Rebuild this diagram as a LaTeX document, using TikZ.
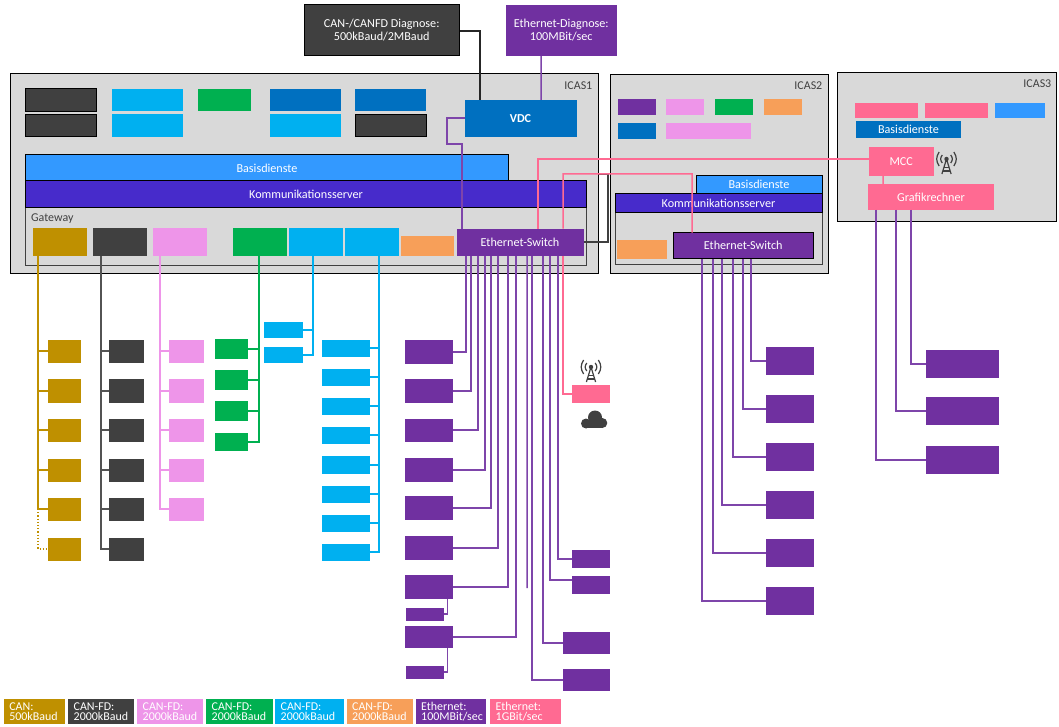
\documentclass[tikz,border=0pt]{standalone}
\usepackage{fontspec}
\setmainfont{Carlito}
\definecolor{cGold}{HTML}{BF9000}
\definecolor{cDark}{HTML}{404040}
\definecolor{cPink}{HTML}{EE95E9}
\definecolor{cGreen}{HTML}{00B050}
\definecolor{cLb}{HTML}{00B0F0}
\definecolor{cOrange}{HTML}{F79F59}
\definecolor{cPurple}{HTML}{7030A0}
\definecolor{cHot}{HTML}{FF6A92}
\definecolor{cBlue}{HTML}{0070C0}
\definecolor{cSky}{HTML}{3399FF}
\definecolor{cIndigo}{HTML}{472BCB}
\definecolor{cGrey}{HTML}{D9D9D9}
\tikzset{
  bxs/.style={inner sep=0pt,outer sep=0pt,text=white,font=\fontsize{12.2}{13}\selectfont,align=center},
  gold/.style={bxs,fill=cGold}, dark/.style={bxs,fill=cDark},
  pinkb/.style={bxs,fill=cPink}, greenb/.style={bxs,fill=cGreen},
  lb/.style={bxs,fill=cLb}, orange/.style={bxs,fill=cOrange},
  pur/.style={bxs,fill=cPurple}, hot/.style={bxs,fill=cHot},
  blueb/.style={bxs,fill=cBlue}, sky/.style={bxs,fill=cSky},
  indigo/.style={bxs,fill=cIndigo},
  edged/.style={draw=black,line width=1bp},
  icas/.style={bxs,fill=cGrey,draw=black,line width=0.9bp},
  gatew/.style={bxs,draw=cDark,line width=1bp},
  lbl/.style={text=cDark,inner sep=0pt,font=\fontsize{12}{12}\selectfont},
  wire/.style={line width=1.5bp},
  lgold/.style={wire,draw=cGold}, ldark/.style={wire,draw=cDark!90!white},
  lpink/.style={wire,draw=cPink}, lgreen/.style={wire,draw=cGreen},
  llb/.style={wire,draw=cLb}, lpur/.style={wire,draw=cPurple!90!white},
  lhot/.style={wire,draw=cHot},
  towerpic/.pic={
    \begin{scope}[draw=cDark,line width=1.2bp]
      \draw (-4.6,11) -- (0,-4) -- (4.6,11);
      \draw (-2.4,4.5) -- (2.4,4.5) (-3.6,8) -- (3.6,8);
      \fill[cDark] (0,-4) circle (2.2);
      \draw (-4.2,-8) .. controls (-6.4,-5) and (-6.4,-3) .. (-4.2,0);
      \draw (-7.4,-11) .. controls (-10.6,-6) and (-10.6,-2) .. (-7.4,3);
      \draw (4.2,-8) .. controls (6.4,-5) and (6.4,-3) .. (4.2,0);
      \draw (7.4,-11) .. controls (10.6,-6) and (10.6,-2) .. (7.4,3);
    \end{scope}
  }
}
\newcommand{\bx}[7][]{%
  \pgfmathsetmacro{\bxw}{#5-#3}\pgfmathsetmacro{\bxh}{#6-#4}%
  \pgfmathsetmacro{\bxx}{(#3+#5)/2}\pgfmathsetmacro{\bxy}{(#4+#6)/2}%
  \node[#1,minimum width=\bxw bp,minimum height=\bxh bp] (#2) at (\bxx,\bxy) {#7};}
\newcommand{\legbox}[5]{%
  \pgfmathsetmacro{\bxw}{#3-#2}%
  \node[anchor=north west,inner sep=0pt,outer sep=0pt,fill=#4,minimum width=\bxw bp,minimum height=25.5bp] (#1) at (#2,698.5) {};
  \node[anchor=west,inner sep=0pt,text=white,align=left,font=\fontsize{12}{10}\selectfont] (#1t) at ([xshift=5.5bp]#1.west) {#5};}
\begin{document}
\begin{tikzpicture}[x=1bp,y=-1bp]
\useasboundingbox (0,0) rectangle (1059,727);
\fill[white] (0,0) rectangle (1059,727);
% top diagnosis
\bx[dark,edged]{candiag}{304}{5}{459.5}{56}{CAN-/CANFD Diagnose:\\500kBaud/2MBaud}
\bx[pur]{ethdiag}{505.5}{5}{617}{56}{Ethernet-Diagnose:\\100MBit/sec}
% ICAS frames
\bx[icas]{icasone}{10}{73.5}{598.5}{273}{}
\bx[icas]{icastwo}{610}{74}{828}{273}{}
\bx[icas]{icasthree}{837.5}{72.5}{1056}{221.5}{}
\node[lbl,anchor=east] (lone) at (592.5,85.5) {ICAS1};
\node[lbl,anchor=east] (ltwo) at (822.5,85.5) {ICAS2};
\node[lbl,anchor=east] (lthree) at (1051.5,83.5) {ICAS3};
% ICAS1 apps
\bx[dark,edged]{a1}{26}{89}{96.5}{111.5}{}
\bx[dark,edged]{a2}{26}{114.5}{96.5}{137}{}
\bx[lb]{a3}{112}{89}{183}{111.5}{}
\bx[lb]{a4}{112}{114.5}{183}{137}{}
\bx[greenb]{a5}{198}{89}{251}{111.5}{}
\bx[blueb]{a6}{269.5}{89}{340.5}{111.5}{}
\bx[lb]{a7}{269.5}{114.5}{340.5}{137}{}
\bx[blueb]{a8}{355}{89}{426}{111.5}{}
\bx[dark,edged]{a9}{355}{114.5}{426}{137}{}
\bx[blueb]{vdc}{464.5}{100}{576.5}{137}{\textbf{VDC}}
\bx[gatew]{gw}{26}{207}{586}{265.5}{}
\bx[sky,edged]{bas}{26}{155}{508}{181}{Basisdienste}
\bx[indigo,edged]{kom}{26}{181}{586}{207}{Kommunikationsserver}
\node[lbl,anchor=west] (gwl) at (31,218.5) {Gateway};
% gateway ports
\bx[gold]{pgold}{33}{228}{86.5}{255.5}{}
\bx[dark]{pdark}{93}{228}{147}{255.5}{}
\bx[pinkb]{ppink}{153}{228}{207}{255.5}{}
\bx[greenb]{pgreen}{233}{228}{287}{255.5}{}
\bx[lb]{plba}{289}{228}{342.5}{255.5}{}
\bx[lb]{plbb}{345}{228}{398.5}{255.5}{}
\bx[orange]{porange}{401}{236}{454}{255.5}{}
\bx[pur]{swa}{456.5}{228.5}{583.5}{255.5}{Ethernet-Switch}
% ICAS2
\bx[pur]{b1}{617.5}{99.5}{655.5}{115}{}
\bx[pinkb]{b2}{666}{99.5}{704}{115}{}
\bx[greenb]{b3}{715}{99.5}{753}{115}{}
\bx[orange]{b4}{764}{99.5}{801.5}{115}{}
\bx[blueb]{b5}{617.5}{123.5}{655.5}{139.5}{}
\bx[pinkb]{b6}{666}{123.5}{751}{139.5}{}
\bx[gatew]{gwb}{615}{212.5}{822}{264}{}
\bx[sky,edged]{basb}{696}{175.5}{822}{194}{Basisdienste}
\bx[indigo,edged]{komb}{615}{194}{822}{212.5}{Kommunikationsserver}
\bx[orange]{b7}{616.5}{239.5}{667}{259}{}
\bx[pur,edged]{swb}{673.5}{232.5}{813}{258.5}{Ethernet-Switch}
% ICAS3
\bx[hot]{c1}{855}{103.5}{918}{118.5}{}
\bx[hot]{c2}{925}{103.5}{988}{118.5}{}
\bx[sky]{c3}{995}{103.5}{1045}{118.5}{}
\bx[blueb]{basc}{856}{121}{961}{138}{Basisdienste}
\bx[hot]{mcc}{869}{147.5}{933.5}{176}{MCC}
\bx[hot]{graf}{868}{184.5}{994}{209.5}{Grafikrechner}
\pic at (946.5,163) {towerpic};
% CAN gold
\foreach \i/\a/\b in {1/339.5/362.5,2/379/403,3/418.5/441.5,4/458.5/481.5,5/497.5/520.5,6/537.5/560.5}{
  \bx[gold]{g\i}{47.5}{\a}{81}{\b}{}
  \bx[dark]{d\i}{109}{\a}{143.5}{\b}{}
}
\foreach \i/\a/\b in {1/339.5/362.5,2/379/403,3/418.5/441.5,4/458.5/481.5,5/497.5/520.5}{
  \bx[pinkb]{k\i}{169}{\a}{203.5}{\b}{}
}
\foreach \i/\a/\b in {1/339/359,2/370/390,3/401/421,4/433/451}{
  \bx[greenb]{n\i}{214.5}{\a}{248}{\b}{}
}
\bx[lb]{s1}{263.5}{322}{303}{338}{}
\bx[lb]{s2}{263.5}{347}{303}{363}{}
\foreach \i/\a/\b in {1/339.5/356.5,2/368.5/385.5,3/397.5/414.5,4/426.5/443.5,5/456/474,6/485.5/502.5,7/514.5/531.5,8/543.5/560.5}{
  \bx[lb]{t\i}{322}{\a}{370}{\b}{}
}
% Ethernet left column
\foreach \i/\a/\b in {1/340/364,2/379/403,3/418.5/441.5,4/458/482,5/496/520,6/536/560,7/575/599,8/626/648}{
  \bx[pur]{e\i}{405}{\a}{453}{\b}{}
}
\bx[pur]{ea}{405.5}{607.5}{443.5}{620.5}{}
\bx[pur]{eb}{405.5}{665.5}{443.5}{678.5}{}
\bx[hot]{fhot}{572}{385}{610}{403}{}
\bx[pur]{f1}{572}{550}{610}{568}{}
\bx[pur]{f2}{572}{575.5}{610}{593.5}{}
\bx[pur]{f3}{562.5}{632}{610}{654}{}
\bx[pur]{f4}{562.5}{669}{610}{691}{}
\pic at (591,371) {towerpic};
\fill[cDark] (586,423.5) circle (5);
\fill[cDark] (595,417.5) circle (7);
\fill[cDark] (602.3,423) circle (5);
\fill[cDark] (586,421) rectangle (602,428.2);
% ICAS2 devices
\foreach \i/\a in {1/347,2/395,3/443,4/491,5/539,6/587}{
  \pgfmathsetmacro{\bb}{\a+28}
  \bx[pur]{h\i}{766}{\a}{814}{\bb}{}
}
% ICAS3 devices
\foreach \i/\a in {1/350,2/397,3/446}{
  \pgfmathsetmacro{\bb}{\a+28}
  \bx[pur]{m\i}{926}{\a}{999}{\bb}{}
}
% legend
\legbox{la}{3.6}{65}{cGold}{CAN:\\500kBaud}
\legbox{lb}{68}{134}{cDark}{CAN-FD:\\2000kBaud}
\legbox{lc}{137}{203}{cPink}{CAN-FD:\\2000kBaud}
\legbox{ld}{206}{272.5}{cGreen}{CAN-FD:\\2000kBaud}
\legbox{le}{275}{343.5}{cLb}{CAN-FD:\\2000kBaud}
\legbox{lf}{346.5}{412.5}{cOrange}{CAN-FD:\\2000kBaud}
\legbox{lg}{415.5}{485.5}{cPurple}{Ethernet:\\100MBit/sec}
\legbox{lh}{490}{561}{cHot}{Ethernet:\\1GBit/sec}
% connectors top
\draw[wire,draw=black!85] ([yshift=-0.5bp]candiag.east) -| ([xshift=15.5bp]vdc.north west);
\draw[lpur] ([xshift=35.5bp]ethdiag.south west) -- ([xshift=76.5bp]vdc.north west);
\coordinate (viaa) at (447,144);
\draw[lpur] ([yshift=0.5bp]vdc.west) -| (viaa) -| ([xshift=5.5bp]swa.north west);
% switch interlink
\coordinate (ila) at (608,174);
\coordinate (ilb) at (598.5,174);
\draw[wire,draw=cDark] (swa.east) -| (ila) -- (ilb);
% pink
\draw[lhot] ([yshift=2.75bp]mcc.west) -| ([xshift=81.5bp]swa.north west);
\coordinate (vib) at (692,174);
\draw[lhot] ([xshift=106.5bp]swa.north west) |- (vib) -- ([xshift=18.5bp]swb.north west);
\draw[lhot] ([xshift=106.5bp]swa.south west) |- (fhot.west);
\draw[lhot] ([xshift=14bp]mcc.south west) -- ([xshift=15bp]graf.north west);
% gold
\draw[lgold] ([xshift=5bp]pgold.south west) |- (g5.west);
\coordinate (gbus) at (38,509);
\foreach \i in {1,2,3,4} \draw[lgold] (g\i.west) -- (g\i.west -| gbus);
\draw[lgold,line width=1.2bp,dotted] (gbus) |- (g6.west);
% dark
\draw[ldark] ([xshift=8bp]pdark.south west) |- (d6.west);
\coordinate (dbus) at (101,509);
\foreach \i in {1,2,3,4,5} \draw[ldark] (d\i.west) -- (d\i.west -| dbus);
% pink can
\draw[lpink] ([xshift=7bp]ppink.south west) |- (k5.west);
\coordinate (kbus) at (160,509);
\foreach \i in {1,2,3,4} \draw[lpink] (k\i.west) -- (k\i.west -| kbus);
% green
\draw[lgreen] ([xshift=26bp]pgreen.south west) |- (n4.east);
\coordinate (nbus) at (259,400);
\foreach \i in {1,2,3} \draw[lgreen] (n\i.east) -- (n\i.east -| nbus);
% light blue a
\draw[llb] ([xshift=24bp]plba.south west) |- (s2.east);
\coordinate (sbus) at (313,340);
\draw[llb] (s1.east) -- (s1.east -| sbus);
% light blue b
\draw[llb] ([xshift=34bp]plbb.south west) |- (t8.east);
\coordinate (tbus) at (379,400);
\foreach \i in {1,...,7} \draw[llb] (t\i.east) -- (t\i.east -| tbus);
% Ethernet ICAS1
\foreach \i/\dx in {1/9.5,2/14.5,3/21.5,4/28.5,5/34.5,6/41.5,7/51.5,8/59.5}{
  \draw[lpur] ([xshift=\dx bp]swa.south west) |- (e\i.east);
}
\coordinate (eend) at (527,588);
\draw[lpur] ([xshift=70.5bp]swa.south west) -- (eend);
\draw[lpur] ([xshift=75.5bp]swa.south west) |- (f4.west);
\draw[lpur] ([xshift=86.5bp]swa.south west) |- (f3.west);
\draw[lpur] ([xshift=93.5bp]swa.south west) |- ([yshift=4.5bp]f2.west);
\draw[lpur] ([xshift=101.5bp]swa.south west) |- (f1.west);
\draw[lpur,line width=1.2bp] ([xshift=42.5bp]e7.south west) |- (ea.east);
\draw[lpur,line width=1.2bp] ([xshift=42.5bp]e8.south west) |- (eb.east);
% Ethernet ICAS2
\foreach \i/\dx in {1/77.5,2/69.5,3/59.5,4/48.5,5/39.5,6/28.5}{
  \draw[lpur] ([xshift=\dx bp]swb.south west) |- (h\i.west);
}
% ICAS3
\draw[lpur] ([xshift=8bp]graf.south west) |- (m3.west);
\draw[lpur] ([xshift=28bp]graf.south west) |- (m2.west);
\draw[lpur] ([xshift=43bp]graf.south west) |- (m1.west);
\end{tikzpicture}
\end{document}
